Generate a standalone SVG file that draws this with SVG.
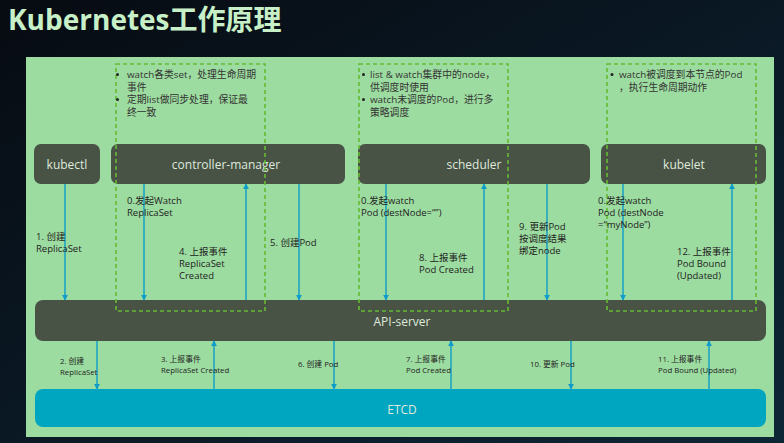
<svg xmlns="http://www.w3.org/2000/svg" width="784" height="443" viewBox="0 0 784 443">
<style>
.node{fill:#485346}
.nl{fill:#dfe9dc;font-family:"Open Sans","Noto Sans CJK SC",sans-serif;font-size:12px;text-anchor:middle}
.t{fill:#222;font-family:"Open Sans","Noto Sans CJK SC",sans-serif;font-size:9.5px}
.s{fill:#222;font-family:"Open Sans","Noto Sans CJK SC",sans-serif;font-size:7.8px}
.b{fill:#333;font-family:"Open Sans","Noto Sans CJK SC",sans-serif;font-size:9.8px}
.dash{fill:none;stroke:#66bb33;stroke-width:1.6;stroke-dasharray:4 3}
.arr{stroke:#0e9cc9;stroke-width:1.4;fill:none}
</style>
<defs>
<linearGradient id="bg" x1="0" y1="0" x2="1" y2="1">
<stop offset="0" stop-color="#070b12"/>
<stop offset="1" stop-color="#0d2636"/>
</linearGradient>
<marker id="ah" viewBox="0 0 8 8" refX="7" refY="4" markerWidth="6" markerHeight="6" markerUnits="userSpaceOnUse" orient="auto">
<path d="M0,0 L8,4 L0,8 z" fill="#0e9cc9"/>
</marker>
</defs>
<rect x="0" y="0" width="784" height="443" fill="url(#bg)"/>
<text x="8" y="30" font-family="'Open Sans','Noto Sans CJK SC',sans-serif" font-size="28" font-weight="bold" fill="#c8f0c8">Kubernetes工作原理</text>
<rect x="26" y="57" width="748" height="380" fill="#9ddca0"/>

<g id="kubectl"><rect class="node" x="34" y="144" width="66" height="40" rx="7"/><text class="nl" x="67" y="169">kubectl</text></g>
<g id="controller-manager"><rect class="node" x="111" y="144" width="234" height="40" rx="7"/><text class="nl" x="226" y="169">controller-manager</text></g>
<g id="scheduler"><rect class="node" x="358" y="144" width="232" height="40" rx="7"/><text class="nl" x="474" y="169">scheduler</text></g>
<g id="kubelet"><rect class="node" x="601" y="144" width="165" height="40" rx="7"/><text class="nl" x="684" y="169">kubelet</text></g>
<g id="api-server"><rect class="node" x="35" y="300" width="731" height="41" rx="8"/><text class="nl" x="402" y="326" font-size="15">API-server</text></g>
<g id="etcd"><rect x="35" y="389" width="731" height="38" rx="8" fill="#00a5c0"/><text class="nl" x="402" y="414" font-size="14" fill="#d4f2f8">ETCD</text></g>

<g id="notes">
<rect class="dash" x="116" y="64" width="149" height="247"/>
<rect class="dash" x="359" y="64" width="149" height="247"/>
<rect class="dash" x="607" y="64" width="149" height="247"/>
<circle cx="117.5" cy="74.5" r="1.5" fill="#222"/>
<text class="b" x="127" y="78">watch各类set，处理生命周期</text>
<text class="b" x="127" y="91">事件</text>
<circle cx="117.5" cy="99.5" r="1.5" fill="#222"/>
<text class="b" x="127" y="103">定期list做同步处理，保证最</text>
<text class="b" x="127" y="116">终一致</text>
<circle cx="363.5" cy="74.5" r="1.5" fill="#222"/>
<text class="b" x="370" y="78">list &amp; watch集群中的node，</text>
<text class="b" x="370" y="91">供调度时使用</text>
<circle cx="363.5" cy="99.5" r="1.5" fill="#222"/>
<text class="b" x="370" y="103">watch未调度的Pod，进行多</text>
<text class="b" x="370" y="116">策略调度</text>
<circle cx="612" cy="74.5" r="1.5" fill="#222"/>
<text class="b" x="619" y="78">watch被调度到本节点的Pod</text>
<text class="b" x="619" y="91">，执行生命周期动作</text>
</g>

<g id="connectors">
<line class="arr" x1="65" y1="184" x2="65" y2="300" marker-end="url(#ah)"/>
<line class="arr" x1="144" y1="184" x2="144" y2="300" marker-end="url(#ah)"/>
<line class="arr" x1="246" y1="300" x2="246" y2="184" marker-end="url(#ah)"/>
<line class="arr" x1="299" y1="184" x2="299" y2="300" marker-end="url(#ah)"/>
<line class="arr" x1="386" y1="184" x2="386" y2="300" marker-end="url(#ah)"/>
<line class="arr" x1="484" y1="300" x2="484" y2="184" marker-end="url(#ah)"/>
<line class="arr" x1="547" y1="184" x2="547" y2="300" marker-end="url(#ah)"/>
<line class="arr" x1="623" y1="184" x2="623" y2="300" marker-end="url(#ah)"/>
<line class="arr" x1="732" y1="300" x2="732" y2="184" marker-end="url(#ah)"/>
<line class="arr" x1="97" y1="341" x2="97" y2="389" marker-end="url(#ah)"/>
<line class="arr" x1="214" y1="389" x2="214" y2="341" marker-end="url(#ah)"/>
<line class="arr" x1="334" y1="341" x2="334" y2="389" marker-end="url(#ah)"/>
<line class="arr" x1="451" y1="389" x2="451" y2="341" marker-end="url(#ah)"/>
<line class="arr" x1="571" y1="341" x2="571" y2="389" marker-end="url(#ah)"/>
<line class="arr" x1="709" y1="389" x2="709" y2="341" marker-end="url(#ah)"/>
</g>

<g id="labels">
<text class="t" x="36" y="240">1. 创建</text>
<text class="t" x="36" y="252">ReplicaSet</text>
<text class="t" x="127" y="204">0.发起Watch</text>
<text class="t" x="127" y="216">ReplicaSet</text>
<text class="t" x="179" y="255">4. 上报事件</text>
<text class="t" x="179" y="267">ReplicaSet</text>
<text class="t" x="179" y="279">Created</text>
<text class="t" x="270" y="246">5. 创建Pod</text>
<text class="t" x="361" y="204">0.发起watch</text>
<text class="t" x="361" y="216">Pod (destNode=“”)</text>
<text class="t" x="419" y="261">8. 上报事件</text>
<text class="t" x="419" y="273">Pod Created</text>
<text class="t" x="519" y="230">9. 更新Pod</text>
<text class="t" x="519" y="242">按调度结果</text>
<text class="t" x="519" y="254">绑定node</text>
<text class="t" x="598" y="204">0.发起watch</text>
<text class="t" x="598" y="216">Pod (destNode</text>
<text class="t" x="598" y="228">=“myNode”)</text>
<text class="t" x="677" y="255">12. 上报事件</text>
<text class="t" x="677" y="267">Pod Bound</text>
<text class="t" x="677" y="279">(Updated)</text>
<text class="s" x="60" y="364">2. 创建</text>
<text class="s" x="60" y="375">ReplicaSet</text>
<text class="s" x="161" y="362">3. 上报事件</text>
<text class="s" x="161" y="373">ReplicaSet Created</text>
<text class="s" x="298" y="367">6. 创建 Pod</text>
<text class="s" x="406" y="362">7. 上报事件</text>
<text class="s" x="406" y="373">Pod Created</text>
<text class="s" x="530" y="367">10. 更新 Pod</text>
<text class="s" x="658" y="362">11. 上报事件</text>
<text class="s" x="658" y="373">Pod Bound (Updated)</text>
</g>
</svg>
